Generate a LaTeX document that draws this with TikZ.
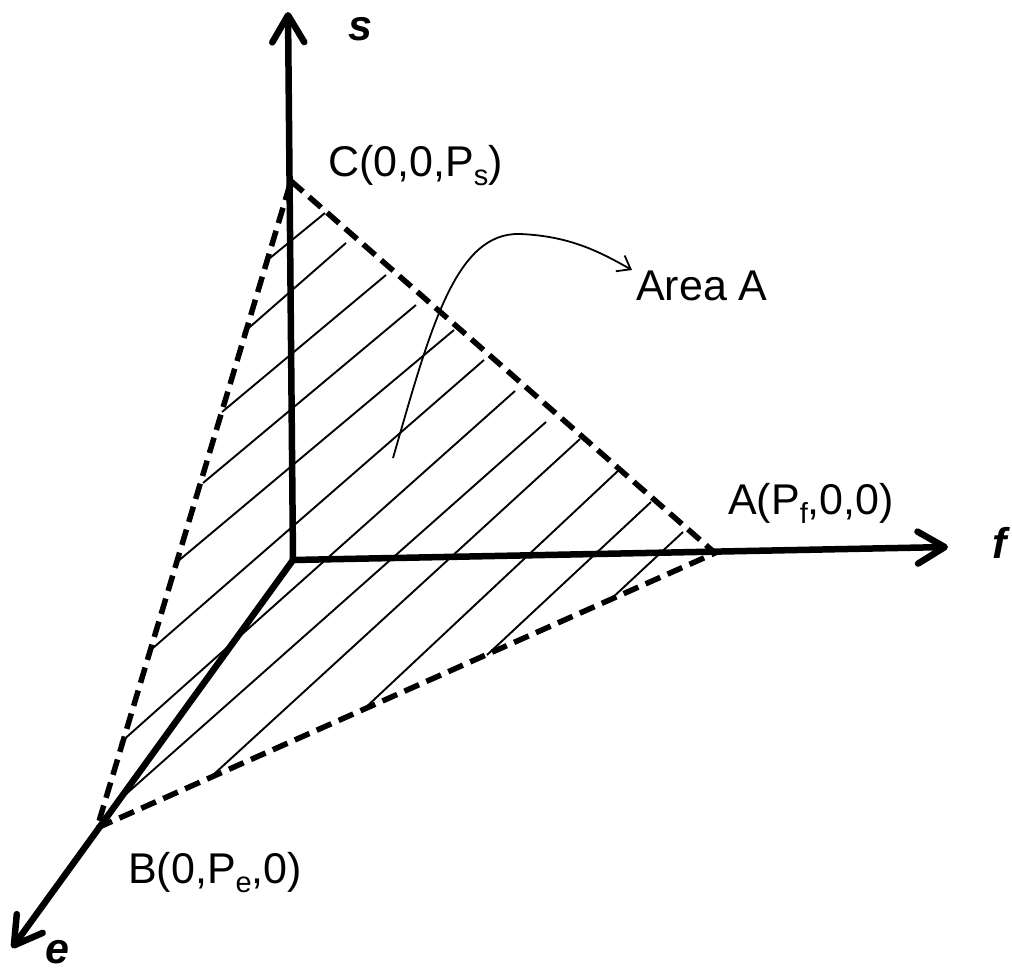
\documentclass[tikz,border=0pt]{standalone}
\usepackage{fontspec}
\setmainfont{Liberation Sans}
\usetikzlibrary{arrows.meta}
\newcommand{\lowsub}[1]{\raisebox{-9pt}{\fontsize{29}{30}\selectfont #1}}

\begin{document}
\begin{tikzpicture}[x=1pt, y=-1pt,
  every node/.style={font=\fontsize{43}{50}\selectfont, inner sep=0pt},
  axis/.style={line width=6.5pt, -{Straight Barb[length=27pt,width=32pt,round]}},
  axislbl/.style={font=\fontsize{43}{50}\selectfont\bfseries\itshape},
  edge/.style={line width=5.5pt, dash pattern=on 16pt off 8pt},
  hatch/.style={line width=1.9pt}]
\useasboundingbox (0,0) rectangle (1012,974);
% corner points
\coordinate (O) at (293,560);
\coordinate (C) at (291,181);
\coordinate (A) at (715,553);
\coordinate (B) at (97,828);
\coordinate (stip) at (288,12);
\coordinate (ftip) at (948,547);
\coordinate (etip) at (12,948);
% hatching of the plane
\foreach \xa/\ya/\xb/\yb in {270/258/325/213, 243/333/346/243, 222/412/386/275,
    203/483/416/305, 177/562/454/330, 153/648/484/360, 120/743/515/391,
    125/795/546/422, 213/775/580/439, 363/710/620/469, 487/655/651/502,
    610/600/683/532}
  \draw[hatch] (\xa,\ya) -- (\xb,\yb);
% dashed triangle
\draw[edge] (C) -- (A) -- (B) -- cycle;
% axes
\draw[axis] (O) -- (stip);
\draw[axis] (O) -- (ftip);
\draw[axis] (O) -- (etip);
\node[axislbl] (slbl) at (360,29) {s};
\node[axislbl] (flbl) at (1000,543) {f};
\node[axislbl] (elbl) at (57,952) {e};
% point labels
\node[anchor=base west] (Clbl) at (328,176) {C(0,0,P\lowsub{s})};
\node[anchor=base west] (Albl) at (728,514) {A(P\lowsub{f},0,0)};
\node[anchor=base west] (Blbl) at (128,883) {B(0,P\lowsub{e},0)};
% area pointer
\coordinate (areapt) at (393,458);
\coordinate (areatip) at (632,270);
\node[anchor=base west] (arealbl) at (636,300) {Area A};
\draw[line width=1.8pt, -{Straight Barb[length=12pt,width=18pt]}] (areapt)
  .. controls (430,330) and (455,232) .. (520,234)
  .. controls (570,236) and (600,252) .. (areatip);
\end{tikzpicture}
\end{document}
